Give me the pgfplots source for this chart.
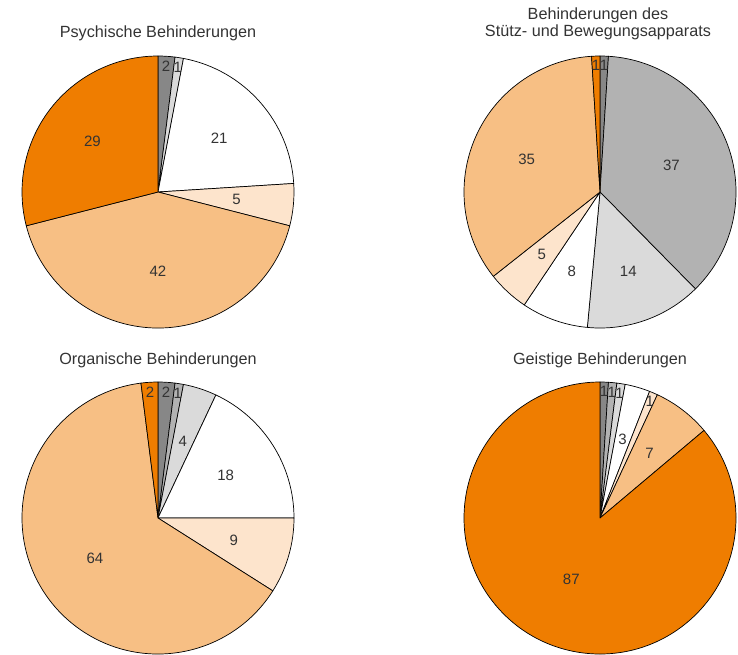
\documentclass[border=0pt]{standalone}
\usepackage{pgfplots}
\pgfplotsset{compat=1.18}
\usepackage{pgfplotstable}
\usepackage{fontspec}
\setmainfont{Liberation Sans}
\definecolor{c0}{HTML}{878787}
\definecolor{c1}{HTML}{B2B2B2}
\definecolor{c2}{HTML}{DADADA}
\definecolor{c3}{HTML}{FFFFFF}
\definecolor{c4}{HTML}{FDE4CC}
\definecolor{c5}{HTML}{F7BF84}
\definecolor{c6}{HTML}{EF7D00}
\definecolor{txt}{HTML}{333333}
\def\R{136pt}
\newcommand\lbl{\fontsize{15}{18}\selectfont\color{txt}}

% value, label radius (fraction of pie radius); order clockwise from 12 o'clock
\pgfplotstableread{
v r
2 0.93
0 0.93
1 0.93
21 0.6
5 0.58
42 0.58
29 0.61
}\pieA
\pgfplotstableread{
v r
1 0.93
37 0.56
14 0.62
8 0.62
5 0.63
35 0.59
1 0.93
}\pieB
\pgfplotstableread{
v r
2 0.93
1 0.93
4 0.59
18 0.59
9 0.58
64 0.55
2 0.93
}\pieC
\pgfplotstableread{
v r
1 0.93
1 0.93
1 0.93
3 0.6
1 0.93
7 0.6
87 0.5
}\pieD

\newcommand\pie[2]{%
 \pgfplotstablegetrowsof{#1}%
 \pgfmathtruncatemacro\nrows{\pgfplotsretval-1}%
 \gdef\cum{0}%
 \foreach \i in {0,...,\nrows}{%
   \pgfplotstablegetelem{\i}{v}\of{#1}\let\val\pgfplotsretval
   \pgfmathsetmacro\aS{90-(\cum/#2)*360}%
   \pgfmathsetmacro\aE{90-((\cum+\val)/#2)*360}%
   \pgfmathsetmacro\newcum{\cum+\val}\global\let\cum\newcum
   \ifdim\val pt>0pt
     \edef\tmp{\noexpand\filldraw[fill=c\i,draw=black,line width=0.7pt,line join=round] (axis cs:0,0) -- (axis cs:{cos(\aS)},{sin(\aS)}) arc[start angle=\aS,end angle=\aE,radius=\noexpand\R] -- cycle;}%
     \tmp
   \fi
 }%
 \gdef\cum{0}%
 \foreach \i in {0,...,\nrows}{%
   \pgfplotstablegetelem{\i}{v}\of{#1}\let\val\pgfplotsretval
   \pgfplotstablegetelem{\i}{r}\of{#1}\let\lr\pgfplotsretval
   \pgfmathsetmacro\aM{90-((\cum+\val/2)/#2)*360}%
   \pgfmathsetmacro\newcum{\cum+\val}\global\let\cum\newcum
   \ifdim\val pt>0pt
     \edef\tmp{\noexpand\node[font=\noexpand\lbl,inner sep=0pt] at (axis cs:{\lr*cos(\aM)},{\lr*sin(\aM)}) {\val};}%
     \tmp
   \fi
 }%
}

\pgfplotsset{pieaxis/.style={hide axis, x=\R, y=\R, xmin=-1, xmax=1, ymin=-1, ymax=1, anchor=south west, clip=false}}

\begin{document}
\begin{tikzpicture}
\useasboundingbox (0,0) rectangle (738pt,-654pt);
\begin{axis}[pieaxis, at={(158pt-\R,-192pt-\R)}]
\pie{\pieA}{100}
\end{axis}
\begin{axis}[pieaxis, at={(600pt-\R,-192pt-\R)}]
\pie{\pieB}{101}
\end{axis}
\begin{axis}[pieaxis, at={(158pt-\R,-518pt-\R)}]
\pie{\pieC}{100}
\end{axis}
\begin{axis}[pieaxis, at={(600pt-\R,-518pt-\R)}]
\pie{\pieD}{101}
\end{axis}
\begin{scope}[every node/.style={font=\fontsize{16.2}{18}\selectfont, text=txt, align=center}]
\node at (158pt,-33pt) {Psychische Behinderungen};
\node at (598pt,-24pt) {Behinderungen des\\[-1pt]Stütz- und Bewegungsapparats};
\node at (158pt,-360pt) {Organische Behinderungen};
\node at (600pt,-360pt) {Geistige Behinderungen};
\end{scope}
\end{tikzpicture}
\end{document}
